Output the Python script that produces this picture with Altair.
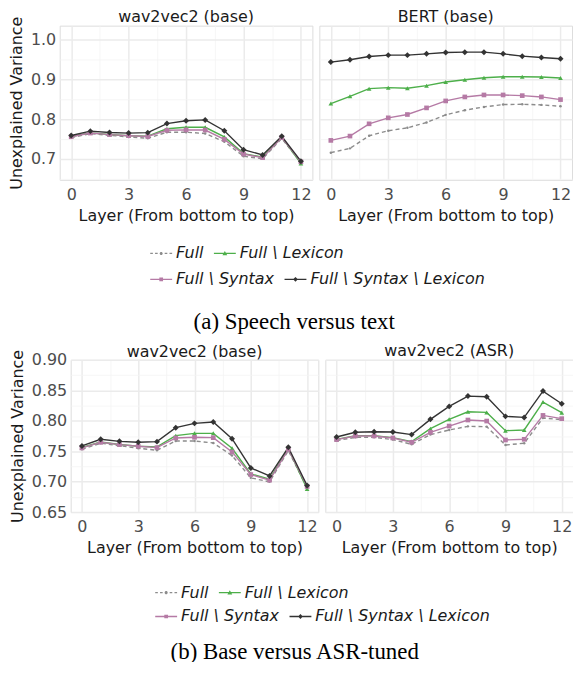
import altair as alt
import pandas as pd

layers = list(range(13))
series = ["Full", "Full \\ Lexicon", "Full \\ Syntax", "Full \\ Syntax \\ Lexicon"]
colors = ["#8C8C8C", "#4DAF4A", "#B57AA5", "#333333"]

# wav2vec2 (base)
w2v_full = [0.7531, 0.7630, 0.7590, 0.7548, 0.7515, 0.7668, 0.7668, 0.7635, 0.7428, 0.7062, 0.6996, 0.7510, 0.6900]
w2v_lex = [0.7560, 0.7650, 0.7610, 0.7580, 0.7570, 0.7755, 0.7793, 0.7793, 0.7548, 0.7127, 0.7040, 0.7540, 0.6881]
w2v_syn = [0.7553, 0.7646, 0.7608, 0.7580, 0.7559, 0.7717, 0.7728, 0.7722, 0.7488, 0.7116, 0.7024, 0.7531, 0.6920]
w2v_synlex = [0.7586, 0.7695, 0.7662, 0.7646, 0.7657, 0.7886, 0.7957, 0.7979, 0.7706, 0.7225, 0.7094, 0.7564, 0.6936]

# BERT (base)
bert_full = [0.7151, 0.7260, 0.7578, 0.7704, 0.7779, 0.7913, 0.8106, 0.8223, 0.8307, 0.8366, 0.8374, 0.8358, 0.8324]
bert_lex = [0.8391, 0.8575, 0.8768, 0.8793, 0.8777, 0.8844, 0.8936, 0.8994, 0.9045, 0.9070, 0.9070, 0.9061, 0.9036]
bert_syn = [0.7461, 0.7570, 0.7880, 0.8031, 0.8115, 0.8282, 0.8458, 0.8559, 0.8609, 0.8609, 0.8592, 0.8559, 0.8492]
bert_synlex = [0.9439, 0.9497, 0.9581, 0.9615, 0.9615, 0.9648, 0.9682, 0.9690, 0.9690, 0.9648, 0.9589, 0.9556, 0.9522]

# wav2vec2 (ASR)
asr_full = [0.7673, 0.7728, 0.7728, 0.7690, 0.7613, 0.7772, 0.7848, 0.7908, 0.7903, 0.7602, 0.7630, 0.8045, 0.8017]
asr_lex = [0.7695, 0.7755, 0.7755, 0.7722, 0.7657, 0.7870, 0.8023, 0.8148, 0.8137, 0.7837, 0.7848, 0.8307, 0.8132]
asr_syn = [0.7690, 0.7750, 0.7750, 0.7717, 0.7646, 0.7810, 0.7913, 0.8012, 0.7995, 0.7684, 0.7695, 0.8088, 0.8034]
asr_synlex = [0.7733, 0.7810, 0.7820, 0.7815, 0.7772, 0.8023, 0.8236, 0.8405, 0.8394, 0.8072, 0.8055, 0.8487, 0.8279]

models = {
    "w2v": [w2v_full, w2v_lex, w2v_syn, w2v_synlex],
    "bert": [bert_full, bert_lex, bert_syn, bert_synlex],
    "asr": [asr_full, asr_lex, asr_syn, asr_synlex],
}

rows = []
for m, vals in models.items():
    for s, v in zip(series, vals):
        for l, y in zip(layers, v):
            rows.append({"model": m, "series": s, "layer": l, "value": y})
df = pd.DataFrame(rows)

FONT = "DejaVu Sans"
MAJOR = "#EBEBEB"
MINOR = "#F4F4F4"

marker_shapes = ["circle", "triangle-up", "square", "diamond"]
marker_sizes = [6, 22, 22, 36]

# legend glyphs: line + marker, as filled paths in the unit square
legend_paths = [
    "M-1,-0.06H-0.76V0.06H-1Z M-0.56,-0.06H-0.32V0.06H-0.56Z "
    "M-0.14,0A0.14,0.14 0 1,1 0.14,0A0.14,0.14 0 1,1 -0.14,0Z "
    "M0.32,-0.06H0.56V0.06H0.32Z M0.76,-0.06H1V0.06H0.76Z",
    "M-1,-0.06H1V0.06H-1Z M0,-0.22L0.22,0.16L-0.22,0.16Z",
    "M-1,-0.06H1V0.06H-1Z M-0.17,-0.17H0.17V0.17H-0.17Z",
    "M-1,-0.06H1V0.06H-1Z M0,-0.22L0.22,0L0,0.22L-0.22,0Z",
]


def make_legend(lx, ly):
    return alt.Legend(
        orient="none", legendX=lx, legendY=ly, direction="horizontal",
        title=None, labelFont=FONT, labelFontSize=16, labelFontStyle="italic",
        labelColor="#1A1A1A", symbolSize=484, symbolStrokeWidth=0,
        labelOffset=4, columnPadding=10, labelLimit=400,
    )


def legend_chart(lx, row_gap):
    d = df[df.model == "w2v"]
    parts = []
    for idx, ly in ((slice(0, 2), 0), (slice(2, 4), row_gap)):
        names = series[idx]
        leg = make_legend(lx, ly)
        parts.append(
            alt.Chart(d).transform_filter(alt.FieldOneOfPredicate(field="series", oneOf=names))
            .mark_point(filled=True, opacity=1, size=0)
            .encode(
                color=alt.Color("series:N", scale=alt.Scale(domain=names, range=colors[idx]), legend=leg),
                shape=alt.Shape("series:N", scale=alt.Scale(domain=names, range=legend_paths[idx]), legend=leg),
            )
        )
    return alt.layer(*parts).resolve_scale(color="independent", shape="independent").properties(width=1, height=1)


def spacer():
    # empty 1px cell so that each figure's layout starts at its y-axis title
    return alt.Chart(df[df.model == "w2v"].head(1)).mark_point(opacity=0, size=0).properties(width=1, height=1)


def panel(model, title, ydom, yvals, major_mult, fmt, width, height, left, title_dy):
    d = df[df.model == model]
    xtest = "datum.value % 3 == 0"
    ytest = "abs(datum.value*%d - round(datum.value*%d)) < 0.001" % (major_mult, major_mult)
    xaxis = alt.Axis(
        values=[0, 1.5, 3, 4.5, 6, 7.5, 9, 10.5, 12],
        labelExpr="%s ? datum.label : ''" % xtest,
        gridColor={"condition": {"test": xtest, "value": MAJOR}, "value": MINOR},
        gridWidth={"condition": {"test": xtest, "value": 1.5}, "value": 0.8},
        domain=False, ticks=False, labelFlush=False, labelOverlap=False,
        labelFont=FONT, labelFontSize=16, labelColor="#4D4D4D", labelPadding=7,
        title="Layer (From bottom to top)", titleFont=FONT, titleFontSize=16,
        titleFontWeight="normal", titleColor="#1A1A1A", titlePadding=5,
    )
    if left:
        yaxis = alt.Axis(
            values=yvals, format=fmt,
            labelExpr="%s ? datum.label : ''" % ytest,
            gridColor={"condition": {"test": ytest, "value": MAJOR}, "value": MINOR},
            gridWidth={"condition": {"test": ytest, "value": 1.5}, "value": 0.8},
            domain=False, ticks=False, labelOverlap=False,
            labelFont=FONT, labelFontSize=16, labelColor="#4D4D4D", labelPadding=4,
            title="Unexplained Variance", titleFont=FONT, titleFontSize=16,
            titleFontWeight="normal", titleColor="#1A1A1A", titlePadding=6,
        )
    else:
        yaxis = alt.Axis(
            values=yvals, labels=False, title=None,
            gridColor={"condition": {"test": ytest, "value": MAJOR}, "value": MINOR},
            gridWidth={"condition": {"test": ytest, "value": 1.5}, "value": 0.8},
            domain=False, ticks=False,
        )
    x = alt.X("layer:Q", scale=alt.Scale(domain=[-0.6, 12.6], nice=False, zero=False), axis=xaxis)
    y = alt.Y("value:Q", scale=alt.Scale(domain=ydom, nice=False, zero=False), axis=yaxis)
    color = alt.Color("series:N", scale=alt.Scale(domain=series, range=colors), legend=None)
    base = alt.Chart(d)
    marks = []
    for i, s in enumerate(series):
        sub = base.transform_filter(alt.FieldOneOfPredicate(field="series", oneOf=[s]))
        line_kw = {"strokeWidth": 1.4}
        if i == 0:
            line_kw["strokeDash"] = [4, 3]
        marks.append(sub.mark_line(**line_kw).encode(x=x, y=y, color=color, order=alt.Order("layer:Q")))
    for s, shp, sz in zip(series, marker_shapes, marker_sizes):
        sub = base.transform_filter(alt.FieldOneOfPredicate(field="series", oneOf=[s]))
        marks.append(sub.mark_point(filled=True, opacity=1, shape=shp, size=sz).encode(x=x, y=y, color=color))
    return alt.layer(*marks).properties(
        width=width, height=height,
        title=alt.TitleParams(title, font=FONT, fontSize=16, fontWeight="normal",
                              color="#1A1A1A", offset=1, anchor="middle", dy=title_dy),
    )


ya = [0.65, 0.7, 0.75, 0.8, 0.85, 0.9, 0.95, 1.0]
yb = [0.65, 0.675, 0.7, 0.725, 0.75, 0.775, 0.8, 0.825, 0.85, 0.875, 0.9]

panelsA = alt.hconcat(
    spacer(),
    panel("w2v", "wav2vec2 (base)", [0.6465, 1.036], ya, 10, ".1f", 254, 155, True, 10.3),
    panel("bert", "BERT (base)", [0.6465, 1.036], ya, 10, ".1f", 254, 155, False, 0),
    spacing=5,
)
figA = alt.vconcat(panelsA, legend_chart(149, 26), spacing=18).resolve_scale(
    color="independent", shape="independent"
).properties(
    title=alt.TitleParams("(a) Speech versus text", orient="bottom", font="Liberation Serif",
                          fontSize=23, fontWeight="normal", color="#000000", anchor="middle",
                          offset=24, dx=7))

panelsB = alt.hconcat(
    spacer(),
    panel("w2v", "wav2vec2 (base)", [0.65, 0.90], yb, 20, ".2f", 249, 153, True, 11.3),
    panel("asr", "wav2vec2 (ASR)", [0.65, 0.90], yb, 20, ".2f", 249, 153, False, 0),
    spacing=5,
)
figB = alt.vconcat(panelsB, legend_chart(154, 24), spacing=25).resolve_scale(
    color="independent", shape="independent"
).properties(
    title=alt.TitleParams("(b) Base versus ASR-tuned", orient="bottom", font="Liberation Serif",
                          fontSize=23, fontWeight="normal", color="#000000", anchor="middle",
                          offset=17, dx=7))

chart = alt.concat(figA, figB, columns=1, align="none", spacing=8).resolve_scale(
    color="independent", shape="independent"
).properties(
    padding={"left": -6, "top": -2, "right": -1, "bottom": -4}
).configure_view(stroke=None).configure(font=FONT)

chart.save("out.html", embed_options={"renderer": "svg", "actions": False})
